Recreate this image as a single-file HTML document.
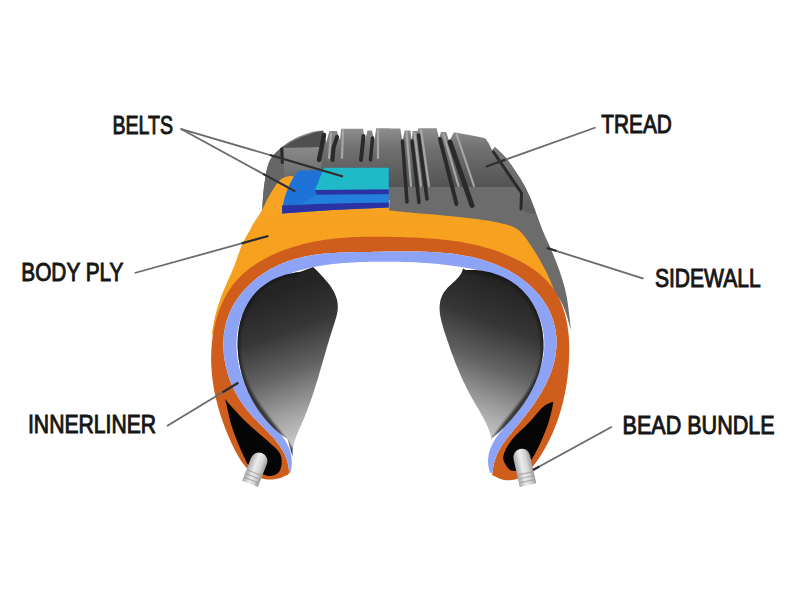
<!DOCTYPE html>
<html><head><meta charset="utf-8"><style>
html,body{margin:0;padding:0;background:#fff;width:800px;height:600px;overflow:hidden}
svg{display:block;font-family:"Liberation Sans",sans-serif}

</style></head><body>
<svg width="800" height="600" viewBox="0 0 800 600">
<defs>
<linearGradient id="gTread" x1="0" y1="128" x2="0" y2="187" gradientUnits="userSpaceOnUse">
 <stop offset="0" stop-color="#8e8e8e"/><stop offset="0.35" stop-color="#707070"/><stop offset="1" stop-color="#535353"/>
</linearGradient>
<linearGradient id="gTreadL" x1="0" y1="147" x2="0" y2="189" gradientUnits="userSpaceOnUse">
 <stop offset="0" stop-color="#8a8a8a"/><stop offset="1" stop-color="#606060"/>
</linearGradient>
<linearGradient id="gShoulder" x1="0" y1="147" x2="0" y2="214" gradientUnits="userSpaceOnUse">
 <stop offset="0" stop-color="#7a7a7a"/><stop offset="1" stop-color="#5e5e5e"/>
</linearGradient>
<linearGradient id="gOrange" x1="0" y1="0" x2="0" y2="1"><stop offset="0" stop-color="#f8a321"/><stop offset="1" stop-color="#f59e1d"/></linearGradient>
<linearGradient id="gCavL" x1="268" y1="295" x2="320" y2="445" gradientUnits="userSpaceOnUse"><stop offset="0" stop-color="#242424"/><stop offset="0.25" stop-color="#363636"/><stop offset="0.5" stop-color="#626262"/><stop offset="0.75" stop-color="#a0a0a0"/><stop offset="1" stop-color="#d8d8d8"/></linearGradient>
<linearGradient id="gCavR" x1="532" y1="295" x2="475" y2="445" gradientUnits="userSpaceOnUse"><stop offset="0" stop-color="#242424"/><stop offset="0.25" stop-color="#363636"/><stop offset="0.5" stop-color="#626262"/><stop offset="0.75" stop-color="#a0a0a0"/><stop offset="1" stop-color="#d8d8d8"/></linearGradient>
<filter id="gb" filterUnits="userSpaceOnUse" x="0" y="0" width="800" height="600"><feGaussianBlur stdDeviation="0.5"/></filter>
<filter id="blur3" x="-20%" y="-20%" width="140%" height="140%"><feGaussianBlur stdDeviation="1.3"/></filter>
<filter id="blur6" x="-20%" y="-20%" width="140%" height="140%"><feGaussianBlur stdDeviation="5"/></filter>
<linearGradient id="gBead" x1="0" y1="0" x2="0" y2="1">
 <stop offset="0" stop-color="#a8a8a8"/><stop offset="0.4" stop-color="#ececec"/><stop offset="0.7" stop-color="#d6d6d6"/><stop offset="1" stop-color="#9c9c9c"/>
</linearGradient>
</defs>
<clipPath id="cg"><path d="M262.0,218.0 C262.2,214.5 262.5,203.3 263.0,197.0 C263.5,190.7 264.2,185.0 265.0,180.0 C265.8,175.0 266.3,170.8 267.5,167.0 C268.7,163.2 269.6,160.3 272.0,157.0 C274.4,153.7 278.2,150.1 282.0,147.0 C285.8,143.9 290.0,141.0 295.0,138.5 C300.0,136.0 307.3,133.3 312.0,132.0 C316.7,130.7 321.4,130.8 323.3,130.5 C323.8,132.4 325.9,140.0 326.4,141.9 C326.9,140.1 328.9,132.8 329.4,131.0 C330.6,131.0 335.6,131.0 336.9,131.0 C337.4,132.5 339.5,138.5 340.0,140.0 C340.2,138.1 341.0,130.6 341.2,128.8 C344.9,128.8 359.5,128.8 363.1,128.8 C363.4,130.8 364.6,139.0 364.9,141.0 C365.3,139.2 367.1,132.2 367.5,130.5 C368.2,130.5 371.2,130.5 371.9,130.5 C372.3,132.1 374.1,138.4 374.5,140.0 C374.8,138.1 376.0,130.2 376.2,128.3 C380.3,128.3 396.3,128.5 400.3,128.5 C400.7,130.6 402.1,138.9 402.5,141.0 C402.9,139.2 404.3,132.2 404.7,130.5 C405.6,130.5 409.4,130.5 410.4,130.5 C410.6,132.2 411.5,138.9 411.7,140.6 C411.9,139.0 412.5,132.6 412.6,131.0 C413.4,131.0 416.6,131.0 417.4,131.0 C417.6,130.6 418.5,128.8 418.7,128.3 C421.7,128.3 433.6,128.3 436.6,128.3 C437.0,130.0 438.8,136.7 439.2,138.4 C439.5,137.3 440.7,133.1 441.0,132.0 C441.8,132.0 445.2,132.0 446.0,132.0 C446.6,133.5 448.8,139.5 449.3,141.0 C450.1,139.5 453.2,133.7 454.0,132.2 C458.7,133.1 476.5,136.0 482.0,137.5 C487.5,139.0 485.6,138.9 487.2,141.0 C488.9,143.1 491.2,148.5 492.0,150.0 C492.5,149.5 494.5,147.5 495.0,147.0 C496.9,148.9 502.3,153.3 506.5,158.5 C510.7,163.7 516.1,171.6 520.0,178.0 C523.9,184.4 526.2,188.3 530.0,197.0 C533.8,205.7 539.2,221.7 542.5,230.0 C545.8,238.3 547.6,241.1 550.0,246.7 C552.4,252.2 554.6,257.8 556.7,263.3 C558.8,268.9 560.8,274.4 562.5,280.0 C564.2,285.6 565.6,291.1 566.7,296.7 C567.8,302.2 568.3,307.8 569.0,313.3 C569.7,318.9 570.7,327.2 571.0,330.0 C569.2,325.0 565.8,309.2 560.0,300.0 C554.2,290.8 544.3,281.3 536.0,275.0 C527.7,268.7 532.7,267.2 510.0,262.0 C487.3,256.8 435.0,245.7 400.0,244.0 C365.0,242.3 325.0,247.7 300.0,252.0 C275.0,256.3 258.3,267.0 250.0,270.0 C252.0,261.3 260.0,226.7 262.0,218.0Z"/></clipPath>
<g clip-path="url(#cg)">
<rect x="240" y="120" width="350" height="68" fill="url(#gTread)"/>
<rect x="240" y="187" width="350" height="160" fill="#6c6c6c"/>
<path d="M492,150 L495,147 L506.5,158.5 L520,178 L530,197 L536,214 L524,212 L521,193 Z" fill="url(#gShoulder)"/>
<path d="M284,147 L322,147 L320,189 L284,189Z" fill="url(#gTreadL)"/>
<path d="M250,140 L284,140 L284,147 L283,230 L250,230Z" fill="#666"/>
<path d="M282,148 Q300,135 323.3,130.5 L322,147 Z" fill="#505050"/>
</g>
<path d="M406.5,132.0 L411.0,186.0" fill="none" stroke="#a6a6a6" stroke-width="2.2" stroke-linecap="round" stroke-linejoin="round"/>
<path d="M414.5,133.0 L421.0,186.0" fill="none" stroke="#a6a6a6" stroke-width="2.2" stroke-linecap="round" stroke-linejoin="round"/>
<path d="M421.0,130.0 L429.0,186.0" fill="none" stroke="#a6a6a6" stroke-width="2.2" stroke-linecap="round" stroke-linejoin="round"/>
<path d="M443.5,134.0 L458.5,186.0" fill="none" stroke="#a6a6a6" stroke-width="2.2" stroke-linecap="round" stroke-linejoin="round"/>
<path d="M456.5,134.0 L474.0,186.0" fill="none" stroke="#a6a6a6" stroke-width="2.2" stroke-linecap="round" stroke-linejoin="round"/>
<path d="M343.0,130.0 L342.0,158.0" fill="none" stroke="#a6a6a6" stroke-width="2.2" stroke-linecap="round" stroke-linejoin="round"/>
<path d="M378.0,130.0 L378.0,158.0" fill="none" stroke="#a6a6a6" stroke-width="2.2" stroke-linecap="round" stroke-linejoin="round"/>
<path d="M331.0,133.0 L329.0,158.0" fill="none" stroke="#a6a6a6" stroke-width="2.2" stroke-linecap="round" stroke-linejoin="round"/>
<path d="M281.7,149.0 L282.3,162.5" fill="none" stroke="#2a2a2a" stroke-width="3.0" stroke-linecap="round" stroke-linejoin="round"/>
<path d="M324.0,135.0 L321.5,148.0 L319.0,160.0" fill="none" stroke="#2a2a2a" stroke-width="4.5" stroke-linecap="round" stroke-linejoin="round"/>
<path d="M337.0,137.0 L333.5,148.0 L332.5,160.0" fill="none" stroke="#2a2a2a" stroke-width="4.0" stroke-linecap="round" stroke-linejoin="round"/>
<path d="M363.5,136.0 L361.0,160.0" fill="none" stroke="#2a2a2a" stroke-width="4.0" stroke-linecap="round" stroke-linejoin="round"/>
<path d="M372.5,138.0 L370.5,160.0" fill="none" stroke="#2a2a2a" stroke-width="3.5" stroke-linecap="round" stroke-linejoin="round"/>
<path d="M402.5,141.0 L407.0,202.0" fill="none" stroke="#2a2a2a" stroke-width="3.5" stroke-linecap="round" stroke-linejoin="round"/>
<path d="M412.0,141.0 L419.0,202.5" fill="none" stroke="#2a2a2a" stroke-width="3.5" stroke-linecap="round" stroke-linejoin="round"/>
<path d="M418.5,135.0 L427.0,199.0" fill="none" stroke="#2a2a2a" stroke-width="3.5" stroke-linecap="round" stroke-linejoin="round"/>
<path d="M440.0,139.0 L456.5,204.0" fill="none" stroke="#2a2a2a" stroke-width="4.0" stroke-linecap="round" stroke-linejoin="round"/>
<path d="M450.0,142.0 L472.0,205.5" fill="none" stroke="#2a2a2a" stroke-width="5.0" stroke-linecap="round" stroke-linejoin="round"/>
<path d="M493.5,152.0 L521.5,193.0 L521.0,209.0" fill="none" stroke="#2a2a2a" stroke-width="3.0" stroke-linecap="round" stroke-linejoin="round"/>
<path d="M211.7,336.0 C212.2,332.8 213.6,322.7 215.0,316.7 C216.4,310.7 218.1,305.6 220.0,300.0 C221.9,294.4 224.4,288.9 226.7,283.3 C229.0,277.8 231.8,272.2 234.0,266.7 C236.2,261.1 238.4,254.2 240.0,250.0 C241.6,245.8 241.6,245.0 243.3,241.7 C245.0,238.4 248.4,232.9 250.0,230.0 C251.6,227.1 251.5,226.5 253.0,224.0 C254.5,221.5 257.3,217.7 259.0,215.0 C260.7,212.3 261.5,210.8 263.0,208.0 C264.5,205.2 266.2,201.3 268.0,198.0 C269.8,194.7 272.0,191.0 274.0,188.0 C276.0,185.0 277.8,181.9 280.0,180.0 C282.2,178.1 285.0,177.2 287.0,176.5 C289.0,175.8 290.7,175.8 292.0,176.0 C293.3,176.2 294.5,177.2 295.0,177.5 C310.8,181.2 374.2,196.2 390.0,200.0 C389.8,201.7 389.2,208.7 389.0,210.4 C395.0,211.0 411.5,212.5 425.0,213.8 C438.5,215.1 457.5,216.8 470.0,218.3 C482.5,219.8 491.9,221.1 500.0,223.0 C508.1,224.9 513.0,226.1 518.3,230.0 C523.6,233.9 527.8,241.1 531.7,246.7 C535.6,252.2 538.7,257.8 541.7,263.3 C544.8,268.9 547.5,274.4 550.0,280.0 C552.5,285.6 554.5,291.1 556.7,296.7 C558.9,302.2 561.8,307.8 563.3,313.3 C564.8,318.9 565.5,327.2 566.0,330.0 C564.2,325.8 558.5,311.7 555.0,305.0 C551.5,298.3 550.8,296.3 545.0,290.0 C539.2,283.7 532.5,273.7 520.0,267.0 C507.5,260.3 490.0,253.8 470.0,250.0 C450.0,246.2 428.3,243.7 400.0,244.0 C371.7,244.3 324.2,247.7 300.0,252.0 C275.8,256.3 265.5,264.2 255.0,270.0 C244.5,275.8 242.3,279.5 237.0,287.0 C231.7,294.5 227.2,306.8 223.0,315.0 C218.8,323.2 213.6,332.5 211.7,336.0Z" fill="url(#gOrange)"/>
<path d="M288.2,474.4 L284.8,476.1 L281.6,477.4 L278.4,478.4 L275.4,479.1 L272.5,479.5 L269.7,479.6 L267.0,479.5 L264.4,479.1 L261.9,478.5 L259.5,477.6 L257.1,476.5 L254.9,475.2 L252.8,473.7 L250.7,472.0 L248.7,470.2 L246.8,468.2 L245.0,466.1 L243.2,463.8 L241.5,461.4 L239.9,458.9 L238.3,456.3 L236.8,453.6 L235.3,450.9 L233.9,448.1 L232.5,445.3 L231.2,442.4 L229.9,439.5 L228.6,436.6 L227.4,433.7 L226.2,430.8 L225.1,427.9 L224.0,425.0 L222.9,422.1 L221.9,419.1 L220.9,416.2 L220.0,413.3 L219.1,410.3 L218.2,407.4 L217.4,404.4 L216.7,401.4 L215.9,398.5 L215.3,395.5 L214.6,392.5 L214.1,389.6 L213.5,386.6 L213.1,383.6 L212.6,380.6 L212.3,377.6 L211.9,374.7 L211.7,371.7 L211.5,368.7 L211.3,365.7 L211.2,362.7 L211.1,359.8 L211.1,356.8 L211.2,353.8 L211.3,350.8 L211.5,347.9 L211.7,344.9 L212.0,342.0 L212.3,339.0 L212.7,336.0 L213.2,333.1 L213.7,330.2 L214.3,327.2 L215.0,324.3 L215.7,321.4 L216.5,318.5 L217.4,315.6 L218.3,312.8 L219.3,310.0 L220.4,307.2 L221.5,304.4 L222.8,301.7 L224.1,299.1 L225.4,296.4 L226.9,293.9 L228.4,291.3 L230.0,288.9 L231.7,286.4 L233.5,284.1 L235.4,281.8 L237.3,279.6 L239.4,277.4 L241.5,275.3 L243.7,273.3 L246.0,271.4 L248.3,269.5 L250.7,267.6 L253.2,265.9 L255.7,264.2 L258.2,262.5 L260.8,261.0 L263.5,259.5 L266.2,258.0 L268.9,256.6 L271.7,255.3 L274.5,254.0 L277.3,252.8 L280.1,251.6 L282.9,250.5 L285.8,249.4 L288.6,248.4 L291.5,247.5 L294.4,246.6 L297.3,245.7 L300.2,244.9 L303.1,244.1 L306.0,243.4 L308.9,242.7 L311.8,242.1 L314.8,241.5 L317.7,241.0 L320.7,240.5 L323.6,240.0 L326.6,239.6 L329.6,239.2 L332.6,238.8 L335.6,238.5 L338.5,238.2 L341.5,237.9 L344.5,237.7 L347.5,237.5 L350.5,237.3 L353.6,237.1 L356.6,237.0 L359.6,236.9 L362.6,236.8 L365.6,236.7 L368.6,236.7 L371.7,236.7 L374.7,236.7 L377.7,236.7 L380.7,236.7 L383.7,236.7 L386.8,236.8 L389.8,236.8 L392.8,236.9 L395.8,237.0 L398.8,237.0 L401.8,237.1 L404.8,237.2 L407.8,237.3 L410.8,237.4 L413.8,237.6 L416.8,237.7 L419.8,237.8 L422.8,238.0 L425.8,238.2 L428.8,238.4 L431.8,238.6 L434.7,238.8 L437.7,239.1 L440.7,239.4 L443.6,239.7 L446.6,240.0 L449.6,240.4 L452.5,240.8 L455.5,241.2 L458.4,241.6 L461.4,242.1 L464.4,242.7 L467.3,243.2 L470.2,243.8 L473.2,244.4 L476.1,245.1 L479.1,245.8 L482.0,246.6 L484.9,247.4 L487.9,248.2 L490.8,249.1 L493.7,250.1 L496.6,251.1 L499.6,252.1 L502.5,253.2 L505.4,254.4 L508.3,255.6 L511.2,256.9 L514.0,258.2 L516.8,259.5 L519.6,261.0 L522.4,262.5 L525.1,264.0 L527.7,265.6 L530.3,267.3 L532.9,269.0 L535.3,270.8 L537.7,272.6 L540.1,274.5 L542.3,276.4 L544.5,278.5 L546.5,280.5 L548.5,282.7 L550.3,284.9 L552.1,287.1 L553.7,289.5 L555.3,291.8 L556.8,294.3 L558.1,296.7 L559.4,299.3 L560.6,301.8 L561.7,304.5 L562.7,307.1 L563.6,309.8 L564.5,312.6 L565.3,315.4 L566.0,318.2 L566.6,321.0 L567.1,323.9 L567.6,326.8 L568.0,329.7 L568.4,332.7 L568.7,335.6 L568.9,338.6 L569.1,341.6 L569.2,344.7 L569.2,347.7 L569.3,350.8 L569.2,353.8 L569.1,356.9 L569.0,359.9 L568.8,363.0 L568.6,366.1 L568.4,369.1 L568.1,372.2 L567.7,375.2 L567.4,378.3 L566.9,381.3 L566.5,384.4 L566.0,387.4 L565.5,390.4 L564.9,393.4 L564.2,396.4 L563.6,399.4 L562.9,402.4 L562.1,405.3 L561.3,408.3 L560.5,411.2 L559.6,414.1 L558.7,417.0 L557.7,419.9 L556.7,422.7 L555.6,425.6 L554.5,428.4 L553.4,431.2 L552.2,434.0 L550.9,436.7 L549.6,439.4 L548.3,442.1 L546.9,444.8 L545.5,447.4 L544.0,450.0 L542.5,452.6 L540.9,455.2 L539.2,457.7 L537.6,460.2 L535.8,462.6 L534.0,464.9 L532.2,467.2 L530.3,469.3 L528.3,471.4 L526.2,473.2 L524.1,474.9 L521.9,476.4 L519.6,477.7 L517.3,478.7 L514.8,479.5 L512.3,480.1 L509.7,480.3 L507.0,480.3 L504.1,479.9 L501.2,479.2 L498.2,478.1 L495.1,476.6 L491.8,474.7 L492.6,472.7 L492.9,469.5 L493.3,466.5 L494.0,463.5 L494.7,460.7 L495.7,457.9 L496.7,455.2 L497.9,452.6 L499.3,450.1 L500.7,447.6 L502.2,445.1 L503.8,442.7 L505.5,440.4 L507.2,438.0 L509.0,435.7 L510.9,433.4 L512.8,431.1 L514.7,428.8 L516.6,426.5 L518.5,424.2 L520.5,421.8 L522.4,419.5 L524.3,417.1 L526.2,414.6 L528.0,412.2 L529.9,409.7 L531.7,407.2 L533.5,404.7 L535.2,402.2 L536.9,399.6 L538.6,397.0 L540.2,394.4 L541.7,391.8 L543.2,389.1 L544.7,386.5 L546.0,383.8 L547.4,381.0 L548.6,378.3 L549.8,375.5 L550.9,372.7 L551.9,369.9 L552.8,367.1 L553.6,364.3 L554.3,361.4 L555.0,358.5 L555.5,355.6 L555.9,352.6 L556.2,349.7 L556.5,346.7 L556.5,343.7 L556.5,340.7 L556.4,337.6 L556.1,334.6 L555.7,331.6 L555.2,328.6 L554.5,325.6 L553.8,322.6 L552.9,319.7 L551.9,316.9 L550.8,314.1 L549.6,311.3 L548.3,308.6 L546.8,306.0 L545.2,303.4 L543.6,300.9 L541.9,298.5 L540.0,296.1 L538.1,293.8 L536.1,291.6 L534.0,289.4 L531.9,287.3 L529.7,285.3 L527.4,283.3 L525.1,281.4 L522.7,279.6 L520.3,277.8 L517.9,276.1 L515.4,274.5 L512.9,272.9 L510.3,271.4 L507.8,270.0 L505.2,268.7 L502.5,267.4 L499.9,266.2 L497.2,265.0 L494.5,263.9 L491.8,262.9 L489.0,261.9 L486.2,261.0 L483.4,260.1 L480.6,259.3 L477.8,258.5 L474.9,257.8 L472.0,257.1 L469.2,256.5 L466.2,255.9 L463.3,255.4 L460.4,254.9 L457.4,254.4 L454.4,254.0 L451.4,253.6 L448.4,253.3 L445.4,253.0 L442.4,252.7 L439.3,252.5 L436.3,252.2 L433.2,252.1 L430.2,251.9 L427.1,251.8 L424.0,251.7 L420.9,251.6 L417.8,251.5 L414.7,251.4 L411.6,251.4 L408.5,251.4 L405.3,251.4 L402.2,251.4 L399.1,251.4 L396.0,251.5 L392.8,251.5 L389.7,251.5 L386.6,251.6 L383.5,251.6 L380.3,251.7 L377.2,251.8 L374.1,251.8 L371.0,251.9 L367.9,251.9 L364.8,252.0 L361.7,252.0 L358.6,252.1 L355.5,252.1 L352.4,252.2 L349.3,252.2 L346.3,252.3 L343.2,252.4 L340.2,252.5 L337.2,252.7 L334.1,252.9 L331.1,253.0 L328.1,253.3 L325.1,253.5 L322.2,253.8 L319.2,254.2 L316.3,254.5 L313.3,255.0 L310.4,255.4 L307.5,256.0 L304.6,256.5 L301.8,257.2 L298.9,257.9 L296.1,258.6 L293.2,259.4 L290.4,260.3 L287.7,261.3 L284.9,262.3 L282.2,263.4 L279.4,264.6 L276.7,265.9 L274.1,267.2 L271.4,268.6 L268.8,270.1 L266.2,271.7 L263.7,273.3 L261.2,275.0 L258.8,276.8 L256.4,278.6 L254.1,280.6 L251.8,282.5 L249.6,284.6 L247.5,286.7 L245.4,288.8 L243.4,291.1 L241.5,293.3 L239.6,295.7 L237.9,298.1 L236.2,300.5 L234.6,303.0 L233.1,305.6 L231.7,308.2 L230.4,310.9 L229.3,313.6 L228.2,316.3 L227.2,319.1 L226.4,321.9 L225.6,324.8 L225.0,327.7 L224.5,330.7 L224.0,333.6 L223.7,336.6 L223.5,339.6 L223.4,342.7 L223.4,345.7 L223.5,348.8 L223.7,351.8 L223.9,354.9 L224.3,357.9 L224.8,361.0 L225.4,364.0 L226.0,367.1 L226.8,370.1 L227.6,373.1 L228.5,376.1 L229.5,379.0 L230.6,381.9 L231.8,384.8 L233.1,387.7 L234.4,390.5 L235.9,393.3 L237.4,396.0 L238.9,398.6 L240.6,401.2 L242.3,403.8 L244.1,406.3 L246.0,408.7 L247.9,411.1 L249.9,413.4 L252.0,415.7 L254.0,417.9 L256.1,420.1 L258.3,422.2 L260.4,424.4 L262.5,426.5 L264.6,428.6 L266.7,430.7 L268.7,432.8 L270.7,435.0 L272.7,437.1 L274.6,439.3 L276.4,441.5 L278.1,443.7 L279.8,446.0 L281.3,448.4 L282.7,450.8 L284.1,453.2 L285.2,455.8 L286.3,458.4 L287.2,461.1 L287.9,463.8 L288.5,466.7 L288.9,469.7 L289.1,472.8Z" fill="#cf5d1c"/>
<path d="M289.1,472.8 L288.9,469.7 L288.5,466.7 L287.9,463.8 L287.2,461.1 L286.3,458.4 L285.2,455.8 L284.1,453.2 L282.7,450.8 L281.3,448.4 L279.8,446.0 L278.1,443.7 L276.4,441.5 L274.6,439.3 L272.7,437.1 L270.7,435.0 L268.7,432.8 L266.7,430.7 L264.6,428.6 L262.5,426.5 L260.4,424.4 L258.3,422.2 L256.1,420.1 L254.0,417.9 L252.0,415.7 L249.9,413.4 L247.9,411.1 L246.0,408.7 L244.1,406.3 L242.3,403.8 L240.6,401.2 L238.9,398.6 L237.4,396.0 L235.9,393.3 L234.4,390.5 L233.1,387.7 L231.8,384.8 L230.6,381.9 L229.5,379.0 L228.5,376.1 L227.6,373.1 L226.8,370.1 L226.0,367.1 L225.4,364.0 L224.8,361.0 L224.3,357.9 L223.9,354.9 L223.7,351.8 L223.5,348.8 L223.4,345.7 L223.4,342.7 L223.5,339.6 L223.7,336.6 L224.0,333.6 L224.5,330.7 L225.0,327.7 L225.6,324.8 L226.4,321.9 L227.2,319.1 L228.2,316.3 L229.3,313.6 L230.4,310.9 L231.7,308.2 L233.1,305.6 L234.6,303.0 L236.2,300.5 L237.9,298.1 L239.6,295.7 L241.5,293.3 L243.4,291.1 L245.4,288.8 L247.5,286.7 L249.6,284.6 L251.8,282.5 L254.1,280.6 L256.4,278.6 L258.8,276.8 L261.2,275.0 L263.7,273.3 L266.2,271.7 L268.8,270.1 L271.4,268.6 L274.1,267.2 L276.7,265.9 L279.4,264.6 L282.2,263.4 L284.9,262.3 L287.7,261.3 L290.4,260.3 L293.2,259.4 L296.1,258.6 L298.9,257.9 L301.8,257.2 L304.6,256.5 L307.5,256.0 L310.4,255.4 L313.3,255.0 L316.3,254.5 L319.2,254.2 L322.2,253.8 L325.1,253.5 L328.1,253.3 L331.1,253.0 L334.1,252.9 L337.2,252.7 L340.2,252.5 L343.2,252.4 L346.3,252.3 L349.3,252.2 L352.4,252.2 L355.5,252.1 L358.6,252.1 L361.7,252.0 L364.8,252.0 L367.9,251.9 L371.0,251.9 L374.1,251.8 L377.2,251.8 L380.3,251.7 L383.5,251.6 L386.6,251.6 L389.7,251.5 L392.8,251.5 L396.0,251.5 L399.1,251.4 L402.2,251.4 L405.3,251.4 L408.5,251.4 L411.6,251.4 L414.7,251.4 L417.8,251.5 L420.9,251.6 L424.0,251.7 L427.1,251.8 L430.2,251.9 L433.2,252.1 L436.3,252.2 L439.3,252.5 L442.4,252.7 L445.4,253.0 L448.4,253.3 L451.4,253.6 L454.4,254.0 L457.4,254.4 L460.4,254.9 L463.3,255.4 L466.2,255.9 L469.2,256.5 L472.0,257.1 L474.9,257.8 L477.8,258.5 L480.6,259.3 L483.4,260.1 L486.2,261.0 L489.0,261.9 L491.8,262.9 L494.5,263.9 L497.2,265.0 L499.9,266.2 L502.5,267.4 L505.2,268.7 L507.8,270.0 L510.3,271.4 L512.9,272.9 L515.4,274.5 L517.9,276.1 L520.3,277.8 L522.7,279.6 L525.1,281.4 L527.4,283.3 L529.7,285.3 L531.9,287.3 L534.0,289.4 L536.1,291.6 L538.1,293.8 L540.0,296.1 L541.9,298.5 L543.6,300.9 L545.2,303.4 L546.8,306.0 L548.3,308.6 L549.6,311.3 L550.8,314.1 L551.9,316.9 L552.9,319.7 L553.8,322.6 L554.5,325.6 L555.2,328.6 L555.7,331.6 L556.1,334.6 L556.4,337.6 L556.5,340.7 L556.5,343.7 L556.5,346.7 L556.2,349.7 L555.9,352.6 L555.5,355.6 L555.0,358.5 L554.3,361.4 L553.6,364.3 L552.8,367.1 L551.9,369.9 L550.9,372.7 L549.8,375.5 L548.6,378.3 L547.4,381.0 L546.0,383.8 L544.7,386.5 L543.2,389.1 L541.7,391.8 L540.2,394.4 L538.6,397.0 L536.9,399.6 L535.2,402.2 L533.5,404.7 L531.7,407.2 L529.9,409.7 L528.0,412.2 L526.2,414.6 L524.3,417.1 L522.4,419.5 L520.5,421.8 L518.5,424.2 L516.6,426.5 L514.7,428.8 L512.8,431.1 L510.9,433.4 L509.0,435.7 L507.2,438.0 L505.5,440.4 L503.8,442.7 L502.2,445.1 L500.7,447.6 L499.3,450.1 L497.9,452.6 L496.7,455.2 L495.7,457.9 L494.7,460.7 L494.0,463.5 L493.3,466.5 L492.9,469.5 L492.6,472.7 L490.1,472.9 L489.1,469.7 L488.5,466.5 L488.1,463.5 L488.0,460.6 L488.2,457.7 L488.6,455.0 L489.2,452.3 L490.0,449.7 L490.9,447.2 L492.1,444.7 L493.4,442.2 L494.8,439.8 L496.3,437.4 L498.0,435.1 L499.7,432.7 L501.5,430.4 L503.3,428.0 L505.2,425.7 L507.0,423.3 L508.9,420.9 L510.8,418.5 L512.6,416.1 L514.5,413.7 L516.3,411.2 L518.2,408.7 L520.0,406.2 L521.7,403.7 L523.5,401.2 L525.2,398.6 L526.8,396.0 L528.4,393.4 L530.0,390.8 L531.5,388.1 L532.9,385.5 L534.3,382.8 L535.6,380.1 L536.9,377.4 L538.0,374.6 L539.1,371.9 L540.1,369.1 L541.0,366.3 L541.8,363.5 L542.5,360.6 L543.1,357.8 L543.6,354.9 L543.9,352.0 L544.2,349.0 L544.3,346.1 L544.3,343.1 L544.2,340.2 L544.0,337.2 L543.6,334.2 L543.1,331.2 L542.5,328.2 L541.8,325.3 L540.9,322.3 L540.0,319.4 L538.9,316.5 L537.7,313.7 L536.4,310.9 L535.0,308.2 L533.6,305.6 L532.0,303.0 L530.3,300.4 L528.5,298.0 L526.6,295.7 L524.7,293.4 L522.6,291.3 L520.4,289.2 L518.2,287.3 L515.9,285.5 L513.5,283.8 L511.0,282.2 L508.5,280.7 L505.9,279.3 L503.2,278.1 L500.5,276.9 L497.7,275.8 L494.9,274.7 L492.1,273.8 L489.2,272.9 L486.3,272.1 L483.3,271.3 L480.3,270.6 L477.4,269.9 L474.4,269.3 L471.4,268.8 L468.4,268.2 L465.4,267.7 L462.4,267.2 L459.4,266.7 L456.4,266.3 L453.4,265.9 L450.4,265.5 L447.5,265.1 L444.5,264.7 L441.5,264.4 L438.6,264.1 L435.6,263.8 L432.6,263.5 L429.7,263.3 L426.7,263.1 L423.8,262.9 L420.8,262.7 L417.8,262.5 L414.9,262.3 L411.9,262.2 L408.9,262.1 L406.0,262.0 L403.0,261.9 L400.0,261.8 L397.0,261.7 L394.0,261.7 L391.1,261.7 L388.1,261.7 L385.0,261.7 L382.0,261.7 L379.0,261.7 L376.0,261.7 L372.9,261.8 L369.9,261.8 L366.8,261.9 L363.8,262.0 L360.7,262.1 L357.6,262.2 L354.5,262.4 L351.5,262.5 L348.4,262.7 L345.3,262.9 L342.2,263.1 L339.1,263.4 L336.1,263.7 L333.0,264.0 L329.9,264.4 L326.9,264.8 L323.8,265.2 L320.8,265.7 L317.8,266.2 L314.8,266.7 L311.8,267.3 L308.8,268.0 L305.9,268.7 L302.9,269.4 L300.0,270.2 L297.1,271.1 L294.3,272.0 L291.4,272.9 L288.6,274.0 L285.8,275.1 L283.0,276.2 L280.3,277.4 L277.6,278.7 L274.9,280.1 L272.3,281.5 L269.8,283.0 L267.3,284.6 L264.8,286.2 L262.5,288.0 L260.2,289.8 L258.0,291.7 L255.9,293.7 L253.9,295.8 L252.1,298.0 L250.3,300.3 L248.6,302.7 L247.0,305.2 L245.6,307.7 L244.2,310.3 L243.0,312.9 L241.9,315.7 L240.8,318.4 L239.9,321.2 L239.1,324.1 L238.4,327.0 L237.8,329.9 L237.3,332.8 L237.0,335.8 L236.7,338.8 L236.5,341.7 L236.5,344.7 L236.5,347.7 L236.7,350.8 L236.9,353.8 L237.3,356.8 L237.7,359.8 L238.3,362.8 L238.9,365.8 L239.6,368.7 L240.5,371.7 L241.4,374.6 L242.4,377.6 L243.4,380.5 L244.6,383.3 L245.8,386.2 L247.2,389.0 L248.5,391.7 L250.0,394.5 L251.6,397.2 L253.2,399.8 L254.9,402.4 L256.7,405.0 L258.5,407.5 L260.4,409.9 L262.3,412.3 L264.3,414.7 L266.3,417.0 L268.3,419.3 L270.3,421.6 L272.3,423.8 L274.3,426.1 L276.2,428.4 L278.1,430.6 L279.9,432.9 L281.7,435.2 L283.3,437.5 L284.8,439.9 L286.2,442.3 L287.5,444.8 L288.7,447.3 L289.7,449.8 L290.5,452.5 L291.1,455.2 L291.5,458.0 L291.8,460.8 L291.8,463.8 L291.5,466.9 L291.1,470.0 L290.3,473.3Z" fill="#8da3f5"/>
<path d="M225.0,399.0 C226.1,400.3 227.9,402.6 231.7,406.7 C235.4,410.8 241.7,417.8 247.5,423.3 C253.3,428.9 261.4,435.2 266.7,440.0 C271.9,444.8 276.5,448.3 279.0,452.0 C281.5,455.7 281.7,458.7 281.7,462.0 C281.7,465.3 280.8,469.7 279.0,472.0 C277.2,474.3 273.8,475.7 271.0,476.0 C268.2,476.3 265.5,475.5 262.0,474.0 C258.5,472.5 253.0,469.9 250.0,467.0 C247.0,464.1 246.2,461.2 244.0,456.7 C241.8,452.2 238.9,445.6 236.7,440.0 C234.5,434.4 232.4,428.9 230.8,423.3 C229.2,417.8 228.0,410.8 227.0,406.7 C226.0,402.6 225.3,400.3 225.0,399.0Z" fill="#050505"/>
<path d="M553.3,401.7 C553.2,402.5 553.3,403.1 552.5,406.7 C551.7,410.3 550.1,417.8 548.3,423.3 C546.5,428.9 544.2,434.4 541.7,440.0 C539.2,445.6 536.2,452.0 533.3,456.7 C530.3,461.4 527.0,465.6 524.0,468.0 C521.0,470.4 517.7,471.0 515.0,471.0 C512.3,471.0 509.9,470.4 508.0,468.0 C506.1,465.6 502.7,461.4 503.3,456.7 C503.9,452.0 507.5,445.6 511.7,440.0 C515.9,434.4 523.0,428.9 528.3,423.3 C533.6,417.8 539.1,410.3 543.3,406.7 C547.5,403.1 551.6,402.5 553.3,401.7Z" fill="#050505"/>
<clipPath id="ccl"><path d="M313.2,266.9 L315.2,268.9 L317.3,271.0 L319.4,273.2 L321.5,275.5 L323.6,277.8 L325.7,280.2 L327.7,282.6 L329.7,285.1 L331.5,287.7 L333.1,290.4 L334.5,293.1 L335.7,295.9 L336.7,298.7 L337.4,301.6 L337.7,304.5 L337.8,307.5 L337.6,310.4 L337.1,313.4 L336.5,316.3 L335.6,319.3 L334.7,322.3 L333.8,325.2 L332.8,328.2 L331.8,331.2 L330.9,334.2 L330.0,337.1 L329.1,340.1 L328.2,343.0 L327.3,346.0 L326.4,349.0 L325.6,351.9 L324.7,354.9 L323.9,357.8 L323.0,360.8 L322.2,363.7 L321.3,366.7 L320.5,369.6 L319.6,372.5 L318.8,375.4 L317.9,378.4 L317.0,381.3 L316.1,384.2 L315.2,387.1 L314.3,390.0 L313.4,392.9 L312.4,395.8 L311.4,398.7 L310.4,401.6 L309.4,404.5 L308.3,407.3 L307.2,410.2 L306.1,413.0 L305.0,415.9 L303.8,418.7 L302.5,421.6 L301.3,424.4 L300.1,427.2 L298.8,430.0 L297.7,432.9 L296.5,435.8 L295.5,438.6 L294.6,441.6 L293.8,444.5 L293.2,447.5 L292.7,450.5 L292.5,453.6 L292.5,456.7 L287.4,438.7 L284.9,437.2 L282.5,435.5 L280.1,433.7 L277.8,431.8 L275.5,429.9 L273.3,427.9 L271.1,425.7 L269.0,423.5 L266.9,421.3 L264.9,418.9 L262.9,416.5 L261.0,414.0 L259.2,411.5 L257.5,408.9 L255.8,406.2 L254.1,403.5 L252.6,400.8 L251.1,398.0 L249.7,395.1 L248.3,392.2 L247.1,389.3 L245.9,386.4 L244.7,383.4 L243.7,380.4 L242.7,377.3 L241.8,374.3 L241.0,371.2 L240.3,368.1 L239.7,365.0 L239.1,361.9 L238.6,358.8 L238.2,355.7 L238.0,352.6 L237.7,349.5 L237.6,346.5 L237.6,343.4 L237.7,340.3 L237.8,337.3 L238.1,334.3 L238.5,331.3 L238.9,328.3 L239.5,325.4 L240.1,322.5 L240.9,319.7 L241.8,316.9 L242.7,314.1 L243.8,311.4 L245.0,308.8 L246.3,306.2 L247.7,303.7 L249.2,301.2 L250.8,298.8 L252.5,296.5 L254.3,294.3 L256.3,292.1 L258.3,290.0 L260.5,288.1 L262.8,286.2 L265.2,284.4 L267.7,282.7 L270.4,281.1 L273.1,279.6 L276.0,278.3 L279.0,277.0 L282.1,275.9 L285.4,274.8 L288.8,273.9 L292.3,273.2 L295.9,272.6 L299.6,272.1Z"/></clipPath>
<path d="M313.2,266.9 L315.2,268.9 L317.3,271.0 L319.4,273.2 L321.5,275.5 L323.6,277.8 L325.7,280.2 L327.7,282.6 L329.7,285.1 L331.5,287.7 L333.1,290.4 L334.5,293.1 L335.7,295.9 L336.7,298.7 L337.4,301.6 L337.7,304.5 L337.8,307.5 L337.6,310.4 L337.1,313.4 L336.5,316.3 L335.6,319.3 L334.7,322.3 L333.8,325.2 L332.8,328.2 L331.8,331.2 L330.9,334.2 L330.0,337.1 L329.1,340.1 L328.2,343.0 L327.3,346.0 L326.4,349.0 L325.6,351.9 L324.7,354.9 L323.9,357.8 L323.0,360.8 L322.2,363.7 L321.3,366.7 L320.5,369.6 L319.6,372.5 L318.8,375.4 L317.9,378.4 L317.0,381.3 L316.1,384.2 L315.2,387.1 L314.3,390.0 L313.4,392.9 L312.4,395.8 L311.4,398.7 L310.4,401.6 L309.4,404.5 L308.3,407.3 L307.2,410.2 L306.1,413.0 L305.0,415.9 L303.8,418.7 L302.5,421.6 L301.3,424.4 L300.1,427.2 L298.8,430.0 L297.7,432.9 L296.5,435.8 L295.5,438.6 L294.6,441.6 L293.8,444.5 L293.2,447.5 L292.7,450.5 L292.5,453.6 L292.5,456.7 L287.4,438.7 L284.9,437.2 L282.5,435.5 L280.1,433.7 L277.8,431.8 L275.5,429.9 L273.3,427.9 L271.1,425.7 L269.0,423.5 L266.9,421.3 L264.9,418.9 L262.9,416.5 L261.0,414.0 L259.2,411.5 L257.5,408.9 L255.8,406.2 L254.1,403.5 L252.6,400.8 L251.1,398.0 L249.7,395.1 L248.3,392.2 L247.1,389.3 L245.9,386.4 L244.7,383.4 L243.7,380.4 L242.7,377.3 L241.8,374.3 L241.0,371.2 L240.3,368.1 L239.7,365.0 L239.1,361.9 L238.6,358.8 L238.2,355.7 L238.0,352.6 L237.7,349.5 L237.6,346.5 L237.6,343.4 L237.7,340.3 L237.8,337.3 L238.1,334.3 L238.5,331.3 L238.9,328.3 L239.5,325.4 L240.1,322.5 L240.9,319.7 L241.8,316.9 L242.7,314.1 L243.8,311.4 L245.0,308.8 L246.3,306.2 L247.7,303.7 L249.2,301.2 L250.8,298.8 L252.5,296.5 L254.3,294.3 L256.3,292.1 L258.3,290.0 L260.5,288.1 L262.8,286.2 L265.2,284.4 L267.7,282.7 L270.4,281.1 L273.1,279.6 L276.0,278.3 L279.0,277.0 L282.1,275.9 L285.4,274.8 L288.8,273.9 L292.3,273.2 L295.9,272.6 L299.6,272.1Z" fill="url(#gCavL)"/>
<g clip-path="url(#ccl)"><path d="M293.8,455.5 L292.4,453.1 L290.9,450.6 L289.3,448.2 L287.7,445.7 L286.0,443.3 L284.3,440.9 L282.5,438.5 L280.7,436.2 L278.9,433.8 L277.0,431.4 L275.1,429.0 L273.2,426.6 L271.3,424.2 L269.4,421.8 L267.5,419.4 L265.7,417.0 L263.8,414.5 L261.9,412.0 L260.1,409.5 L258.3,407.0 L256.6,404.5 L254.9,401.9 L253.2,399.3 L251.6,396.7 L250.1,394.0 L248.6,391.3 L247.3,388.5 L245.9,385.7 L244.7,382.9 L243.6,380.0 L242.5,377.1 L241.6,374.1 L240.7,371.2 L239.9,368.2 L239.2,365.2 L238.6,362.1 L238.1,359.1 L237.7,356.1 L237.3,353.0 L237.1,349.9 L237.0,346.9 L237.0,343.8 L237.0,340.8 L237.2,337.7 L237.5,334.7 L237.9,331.7 L238.4,328.7 L239.0,325.7 L239.8,322.7 L240.6,319.8 L241.5,317.0 L242.6,314.1 L243.7,311.3 L245.0,308.6 L246.4,306.0 L247.8,303.4 L249.4,300.8 L251.1,298.4 L252.9,296.0 L254.8,293.7 L256.8,291.5 L258.9,289.4 L261.1,287.4 L263.4,285.5 L265.8,283.7 L268.3,282.0 L270.9,280.5 L273.7,279.0 L276.5,277.7 L279.4,276.6 L282.5,275.5 L285.6,274.6 L288.9,273.9 L292.2,273.3 L295.6,272.9 L299.2,272.7" fill="none" stroke="#151515" stroke-width="5" filter="url(#blur3)" opacity="0.75"/></g>
<clipPath id="ccr"><path d="M463.0,268.5 L462.1,271.5 L460.7,274.2 L458.9,276.7 L456.8,279.0 L454.6,281.2 L452.3,283.3 L450.0,285.4 L447.7,287.6 L445.7,289.9 L443.9,292.3 L442.4,294.9 L441.3,297.7 L440.4,300.5 L439.9,303.4 L439.6,306.4 L439.6,309.4 L439.8,312.4 L440.2,315.4 L440.8,318.5 L441.5,321.5 L442.3,324.6 L443.2,327.6 L444.1,330.7 L445.1,333.7 L446.1,336.7 L447.1,339.7 L448.1,342.6 L449.1,345.6 L450.1,348.5 L451.1,351.4 L452.2,354.2 L453.3,357.1 L454.3,359.9 L455.4,362.7 L456.5,365.6 L457.7,368.3 L458.8,371.1 L460.0,373.9 L461.2,376.6 L462.5,379.4 L463.7,382.1 L465.1,384.8 L466.4,387.5 L467.8,390.2 L469.2,392.9 L470.6,395.6 L472.1,398.3 L473.6,401.0 L475.2,403.7 L476.8,406.4 L478.4,409.0 L479.9,411.7 L481.5,414.5 L483.0,417.2 L484.5,419.9 L485.8,422.7 L487.1,425.5 L488.3,428.3 L489.4,431.2 L490.3,434.1 L491.1,437.0 L491.7,440.0 L490.9,439.0 L493.2,437.2 L495.5,435.2 L497.8,433.3 L500.0,431.2 L502.2,429.1 L504.4,427.0 L506.6,424.8 L508.7,422.6 L510.8,420.3 L512.8,418.0 L514.8,415.6 L516.8,413.2 L518.7,410.8 L520.6,408.3 L522.4,405.8 L524.1,403.2 L525.8,400.6 L527.4,398.0 L529.0,395.3 L530.5,392.6 L531.9,389.9 L533.3,387.1 L534.6,384.3 L535.8,381.5 L536.9,378.6 L538.0,375.8 L539.0,372.9 L539.8,370.0 L540.6,367.0 L541.3,364.0 L541.9,361.1 L542.4,358.1 L542.8,355.1 L543.2,352.0 L543.4,349.0 L543.4,345.9 L543.4,342.9 L543.3,339.8 L543.1,336.7 L542.7,333.7 L542.3,330.6 L541.7,327.6 L541.0,324.6 L540.2,321.6 L539.3,318.6 L538.3,315.7 L537.2,312.9 L536.0,310.1 L534.6,307.4 L533.2,304.7 L531.7,302.2 L530.0,299.7 L528.3,297.2 L526.4,294.9 L524.4,292.7 L522.4,290.6 L520.2,288.5 L518.0,286.6 L515.7,284.7 L513.2,283.0 L510.8,281.3 L508.2,279.8 L505.5,278.3 L502.8,277.0 L500.0,275.8 L497.2,274.7 L494.3,273.7 L491.3,272.8 L488.3,272.0 L485.2,271.4 L482.0,270.8 L478.9,270.4 L475.6,270.1 L472.4,270.0 L469.0,269.9 L465.7,270.0Z"/></clipPath>
<path d="M463.0,268.5 L462.1,271.5 L460.7,274.2 L458.9,276.7 L456.8,279.0 L454.6,281.2 L452.3,283.3 L450.0,285.4 L447.7,287.6 L445.7,289.9 L443.9,292.3 L442.4,294.9 L441.3,297.7 L440.4,300.5 L439.9,303.4 L439.6,306.4 L439.6,309.4 L439.8,312.4 L440.2,315.4 L440.8,318.5 L441.5,321.5 L442.3,324.6 L443.2,327.6 L444.1,330.7 L445.1,333.7 L446.1,336.7 L447.1,339.7 L448.1,342.6 L449.1,345.6 L450.1,348.5 L451.1,351.4 L452.2,354.2 L453.3,357.1 L454.3,359.9 L455.4,362.7 L456.5,365.6 L457.7,368.3 L458.8,371.1 L460.0,373.9 L461.2,376.6 L462.5,379.4 L463.7,382.1 L465.1,384.8 L466.4,387.5 L467.8,390.2 L469.2,392.9 L470.6,395.6 L472.1,398.3 L473.6,401.0 L475.2,403.7 L476.8,406.4 L478.4,409.0 L479.9,411.7 L481.5,414.5 L483.0,417.2 L484.5,419.9 L485.8,422.7 L487.1,425.5 L488.3,428.3 L489.4,431.2 L490.3,434.1 L491.1,437.0 L491.7,440.0 L490.9,439.0 L493.2,437.2 L495.5,435.2 L497.8,433.3 L500.0,431.2 L502.2,429.1 L504.4,427.0 L506.6,424.8 L508.7,422.6 L510.8,420.3 L512.8,418.0 L514.8,415.6 L516.8,413.2 L518.7,410.8 L520.6,408.3 L522.4,405.8 L524.1,403.2 L525.8,400.6 L527.4,398.0 L529.0,395.3 L530.5,392.6 L531.9,389.9 L533.3,387.1 L534.6,384.3 L535.8,381.5 L536.9,378.6 L538.0,375.8 L539.0,372.9 L539.8,370.0 L540.6,367.0 L541.3,364.0 L541.9,361.1 L542.4,358.1 L542.8,355.1 L543.2,352.0 L543.4,349.0 L543.4,345.9 L543.4,342.9 L543.3,339.8 L543.1,336.7 L542.7,333.7 L542.3,330.6 L541.7,327.6 L541.0,324.6 L540.2,321.6 L539.3,318.6 L538.3,315.7 L537.2,312.9 L536.0,310.1 L534.6,307.4 L533.2,304.7 L531.7,302.2 L530.0,299.7 L528.3,297.2 L526.4,294.9 L524.4,292.7 L522.4,290.6 L520.2,288.5 L518.0,286.6 L515.7,284.7 L513.2,283.0 L510.8,281.3 L508.2,279.8 L505.5,278.3 L502.8,277.0 L500.0,275.8 L497.2,274.7 L494.3,273.7 L491.3,272.8 L488.3,272.0 L485.2,271.4 L482.0,270.8 L478.9,270.4 L475.6,270.1 L472.4,270.0 L469.0,269.9 L465.7,270.0Z" fill="url(#gCavR)"/>
<g clip-path="url(#ccr)"><path d="M465.8,269.9 L469.1,270.1 L472.3,270.3 L475.6,270.7 L478.8,271.1 L481.9,271.6 L485.0,272.2 L488.1,272.8 L491.1,273.6 L494.1,274.4 L497.0,275.3 L499.8,276.3 L502.6,277.4 L505.3,278.7 L508.0,280.0 L510.5,281.4 L513.0,282.9 L515.4,284.5 L517.7,286.3 L519.9,288.1 L522.0,290.1 L524.1,292.2 L526.0,294.3 L527.8,296.6 L529.6,299.0 L531.2,301.4 L532.8,304.0 L534.2,306.6 L535.6,309.3 L536.8,312.1 L538.0,314.9 L539.1,317.8 L540.0,320.8 L540.9,323.8 L541.7,326.9 L542.3,330.0 L542.9,333.1 L543.3,336.2 L543.6,339.4 L543.8,342.5 L544.0,345.7 L543.9,348.9 L543.8,352.0 L543.6,355.1 L543.2,358.2 L542.8,361.3 L542.2,364.3 L541.4,367.2 L540.6,370.1 L539.6,372.9 L538.6,375.7 L537.4,378.5 L536.2,381.2 L534.8,383.8 L533.4,386.4 L531.9,389.0 L530.3,391.6 L528.7,394.1 L527.0,396.6 L525.2,399.1 L523.5,401.5 L521.6,404.0 L519.8,406.4 L517.9,408.8 L516.0,411.2 L514.1,413.6 L512.2,416.0 L510.3,418.3 L508.4,420.7 L506.5,423.1 L504.6,425.5 L502.8,427.9 L501.0,430.3 L499.2,432.8 L497.5,435.2 L495.8,437.7 L494.2,440.2 L492.7,442.7 L491.2,445.3 L489.8,447.9 L488.5,450.5 L487.3,453.1 L486.2,455.8" fill="none" stroke="#151515" stroke-width="5" filter="url(#blur3)" opacity="0.75"/></g>
<path d="M298,170.7 L388.7,167.7 L388.7,207.5 Q330,209.5 282,213.5 L282,209 Q286,186 298,170.7 Z" fill="#1f72d6"/>
<path d="M282,205.5 Q330,203 388.7,202.5 L388.7,207.5 Q330,209.5 282,213.5 Z" fill="#2b32a2"/>
<path d="M324,167.7 L388.7,167.7 L388.7,189.5 L315,190 Z" fill="#20b9c8"/>
<path d="M315,190 L388.7,189.5 L388.7,194.2 L317,194.8 Z" fill="#2b32a2"/>
<path d="M317,194.8 L388.7,194.2 L388.7,202.5 Q340,202.8 300,204.5 Z" fill="#2484de" opacity="0.7"/>
<g transform="translate(256.0,468.5) rotate(-68.8)"><path d="M-16.5,-8.5 L8.0,-8.5 A8.5,8.5 0 0 1 8.0,8.5 L-16.5,8.5 Z" fill="url(#gBead)"/><line x1="-12.5" y1="-7.0" x2="-12.5" y2="7.0" stroke="#8c8c8c" stroke-width="1.2" opacity="0.6"/><line x1="-8.5" y1="-7.0" x2="-8.5" y2="7.0" stroke="#8c8c8c" stroke-width="1.2" opacity="0.6"/><line x1="-4.5" y1="-7.0" x2="-4.5" y2="7.0" stroke="#8c8c8c" stroke-width="1.2" opacity="0.6"/></g>
<g transform="translate(524.0,467.0) rotate(-102.5)"><path d="M-18.5,-8.5 L10.0,-8.5 A8.5,8.5 0 0 1 10.0,8.5 L-18.5,8.5 Z" fill="url(#gBead)"/><line x1="-14.5" y1="-7.0" x2="-14.5" y2="7.0" stroke="#8c8c8c" stroke-width="1.2" opacity="0.6"/><line x1="-10.5" y1="-7.0" x2="-10.5" y2="7.0" stroke="#8c8c8c" stroke-width="1.2" opacity="0.6"/><line x1="-6.5" y1="-7.0" x2="-6.5" y2="7.0" stroke="#8c8c8c" stroke-width="1.2" opacity="0.6"/></g>
<line x1="180.6" y1="128.8" x2="343.0" y2="176.5" stroke="#6a6a6a" stroke-width="1.8"/>
<line x1="180.6" y1="128.8" x2="295.2" y2="191.4" stroke="#6a6a6a" stroke-width="1.8"/>
<line x1="134.7" y1="273.0" x2="268.3" y2="236.0" stroke="#6a6a6a" stroke-width="1.8"/>
<line x1="167.0" y1="426.0" x2="238.3" y2="382.7" stroke="#6a6a6a" stroke-width="1.8"/>
<line x1="595.6" y1="127.5" x2="485.8" y2="166.7" stroke="#6a6a6a" stroke-width="1.8"/>
<line x1="643.5" y1="278.6" x2="546.8" y2="247.9" stroke="#6a6a6a" stroke-width="1.8"/>
<line x1="611.9" y1="426.8" x2="533.0" y2="470.0" stroke="#6a6a6a" stroke-width="1.8"/>
<line x1="269.9" y1="155.0" x2="343.0" y2="176.5" stroke="#2e2e2e" stroke-width="2.2"/>
<line x1="263.1" y1="173.9" x2="295.2" y2="191.4" stroke="#2e2e2e" stroke-width="2.2"/>
<line x1="241.6" y1="243.4" x2="268.3" y2="236.0" stroke="#2e2e2e" stroke-width="2.2"/>
<line x1="222.6" y1="392.2" x2="238.3" y2="382.7" stroke="#2e2e2e" stroke-width="2.2"/>
<line x1="505.6" y1="159.6" x2="485.8" y2="166.7" stroke="#2e2e2e" stroke-width="2.2"/>
<line x1="556.5" y1="251.0" x2="546.8" y2="247.9" stroke="#2e2e2e" stroke-width="2.2"/>
<line x1="539.3" y1="466.5" x2="533.0" y2="470.0" stroke="#2e2e2e" stroke-width="2.2"/>
<text x="112.5" y="133.7" textLength="60.5" lengthAdjust="spacingAndGlyphs" font-size="25" fill="#161616" stroke="#161616" stroke-width="0.95">BELTS</text>
<text x="21.3" y="281.3" textLength="102.2" lengthAdjust="spacingAndGlyphs" font-size="25" fill="#161616" stroke="#161616" stroke-width="0.95">BODY PLY</text>
<text x="28.0" y="433.0" textLength="128.0" lengthAdjust="spacingAndGlyphs" font-size="25" fill="#161616" stroke="#161616" stroke-width="0.95">INNERLINER</text>
<text x="601.3" y="133.1" textLength="70.6" lengthAdjust="spacingAndGlyphs" font-size="25" fill="#161616" stroke="#161616" stroke-width="0.95">TREAD</text>
<text x="654.9" y="286.5" textLength="105.9" lengthAdjust="spacingAndGlyphs" font-size="25" fill="#161616" stroke="#161616" stroke-width="0.95">SIDEWALL</text>
<text x="622.6" y="434.0" textLength="152.0" lengthAdjust="spacingAndGlyphs" font-size="25" fill="#161616" stroke="#161616" stroke-width="0.95">BEAD BUNDLE</text>
</svg></body></html>
